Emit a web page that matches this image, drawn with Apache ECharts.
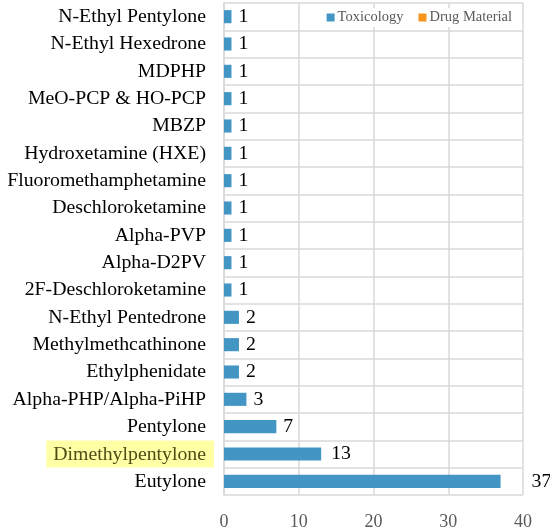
<!DOCTYPE html>
<html>
<head>
<meta charset="utf-8">
<script src="https://cdn.jsdelivr.net/npm/echarts@6/dist/echarts.min.js"></script>
<style>
    html, body { margin: 0; padding: 0; background: #fff; }
    #chart { width: 550px; height: 531px; }
</style>
</head>
<body>
<div id="chart"></div>
<script>
// categories listed bottom -> top (category axis starts at the bottom)
const substances = [
    "Eutylone", "Dimethylpentylone", "Pentylone", "Alpha-PHP/Alpha-PiHP",
    "Ethylphenidate", "Methylmethcathinone", "N-Ethyl Pentedrone",
    "2F-Deschloroketamine", "Alpha-D2PV", "Alpha-PVP", "Deschloroketamine",
    "Fluoromethamphetamine", "Hydroxetamine (HXE)", "MBZP", "MeO-PCP & HO-PCP",
    "MDPHP", "N-Ethyl Hexedrone", "N-Ethyl Pentylone"
];
const toxicology = [37, 13, 7, 3, 2, 2, 2, 1, 1, 1, 1, 1, 1, 1, 1, 1, 1, 1];
const drugMaterial = [];
const xTicks = [0, 10, 20, 30, 40];
const highlighted = "Dimethylpentylone";

const font = "'Liberation Serif', 'DejaVu Serif', serif";
const chart = echarts.init(document.getElementById("chart"));

const toxData = toxicology.map((v) => {
    // Excel pushes the longer labels further out
    const d = v >= 30 ? 31 : v >= 10 ? 10 : 7;
    return { value: v, label: { distance: d } };
});

const yData = substances.map((name) =>
    name === highlighted
        ? { value: name, textStyle: { padding: [0, -8, 0, 0] } }
        : name
);

chart.setOption({
    animation: false,
    backgroundColor: "#fff",
    grid: { left: 224, right: 27, top: 3, bottom: 31, containLabel: false },
    legend: {
        data: ["Toxicology", "Drug Material"],
        right: 35,
        top: 8,
        itemWidth: 8,
        itemHeight: 8,
        itemGap: 15,
        icon: "rect",
        backgroundColor: "#fff",
        padding: [2, 3],
        textStyle: { fontFamily: font, fontSize: 14.5, color: "#595959", padding: [0, 0, 0, -2] }
    },
    xAxis: {
        type: "value",
        min: xTicks[0],
        max: xTicks[xTicks.length - 1],
        interval: 10,
        axisLine: { show: false },
        axisTick: { show: false },
        axisLabel: { fontFamily: font, fontSize: 18, color: "#595959", margin: 18 },
        splitLine: { show: true, lineStyle: { color: "#d9d9d9", width: 1.5 } }
    },
    yAxis: {
        type: "category",
        data: yData,
        axisLine: { show: true, lineStyle: { color: "#d9d9d9", width: 1.5 } },
        axisTick: { show: false },
        splitLine: { show: true, lineStyle: { color: "#d9d9d9", width: 1.5 } },
        axisLabel: {
            margin: 18,
            fontFamily: font,
            fontSize: 19.8,
            color: "#000",
            formatter: (name) => name === highlighted ? "{hl|" + name + "}" : name,
            rich: {
                hl: {
                    fontFamily: font,
                    fontSize: 19.8,
                    color: "#4d4d14",
                    backgroundColor: "#ffffa6",
                    padding: [4, 8, 3, 7]
                }
            }
        }
    },
    series: [
        {
            name: "Toxicology",
            type: "bar",
            data: toxData,
            barWidth: "48%",
            barGap: "-100%",
            itemStyle: { color: "#4396c4" },
            label: {
                show: true,
                position: "right",
                fontFamily: font,
                fontSize: 19.8,
                color: "#000"
            }
        },
        {
            name: "Drug Material",
            type: "bar",
            data: drugMaterial,
            barWidth: "48%",
            itemStyle: { color: "#f7941d" }
        }
    ]
});
</script>
</body>
</html>
